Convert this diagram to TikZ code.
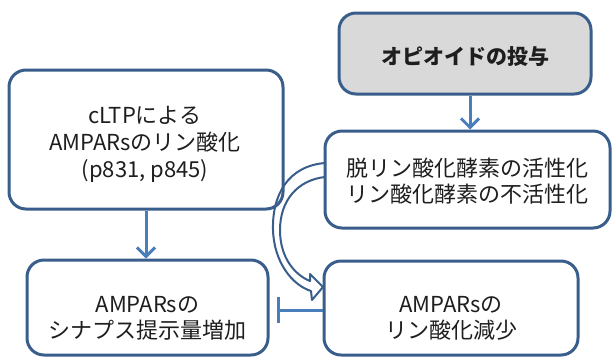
\documentclass[tikz,border=0pt]{standalone}
\usepackage{fontspec}
\setmainfont{Noto Sans CJK JP}
\usetikzlibrary{arrows.meta}
\definecolor{boxline}{HTML}{3A5E8C}
\definecolor{arrowblue}{HTML}{4A7EBB}
\definecolor{grayfill}{HTML}{D9D9D9}
\definecolor{txt}{HTML}{1E1E1E}
\begin{document}
\begin{tikzpicture}[x=1pt,y=-1pt,
  box/.style={draw=boxline, line width=3pt, rounded corners=17pt, fill=white, inner sep=0pt},
  lbl/.style={text=txt, font=\fontsize{22}{26}\selectfont, align=center, inner sep=0pt},
  conn/.style={draw=arrowblue, line width=3pt, -{Straight Barb[length=9pt,width=18pt]}},
  inhib/.style={draw=arrowblue, line width=3pt, -{Bar[width=26pt]}},
  curved/.style={draw=boxline, line width=2pt, line join=round}]
\useasboundingbox (0,0) rectangle (612,357);
\fill[white] (0,0) rectangle (612,357);
% boxes
\node[box, fill=grayfill, minimum width=252pt, minimum height=81pt] (opi) at (465,53.5) {};
\node[lbl, font=\bfseries\fontsize{21}{24}\selectfont] (opit) at (465,57) {オピオイドの投与};
\node[box, minimum width=274pt, minimum height=139pt] (cltp) at (146,139.5) {};
\node[lbl, font=\fontsize{22}{27}\selectfont] (cltpt) at (145,144) {cLTPによる\\AMPARsのリン酸化\\(p831, p845)};
\node[box, minimum width=285pt, minimum height=97pt] (enz) at (467.5,179.5) {};
\node[lbl] (enzt) at (467.5,181) {脱リン酸化酵素の活性化\\リン酸化酵素の不活性化};
\node[box, minimum width=241pt, minimum height=95pt] (syn) at (147.5,307.5) {};
\node[lbl] (synt) at (147.5,318) {AMPARsの\\シナプス提示量増加};
\node[box, minimum width=254pt, minimum height=94pt] (dec) at (451,308) {};
\node[lbl] (dect) at (451,318) {AMPARsの\\リン酸化減少};
% connectors
\draw[conn] ([xshift=5pt]opi.south) -- ([xshift=5pt]opi.south |- enz.north);
\draw[conn] (cltp.south) -- (cltp.south |- syn.north);
\coordinate (barpt) at (277,310);
\draw[inhib] (dec.west |- barpt) -- (barpt);
% curved block arrow
\draw[curved] (325,163) .. controls (288,166) and (272,195) .. (273,230)
  .. controls (274,262) and (292,285) .. (311,291) -- (312,300) -- (323,287)
  -- (310,274) -- (310,281) .. controls (295,275) and (280,258) .. (280,230)
  .. controls (280,200) and (298,180) .. (325,177);
\end{tikzpicture}
\end{document}
